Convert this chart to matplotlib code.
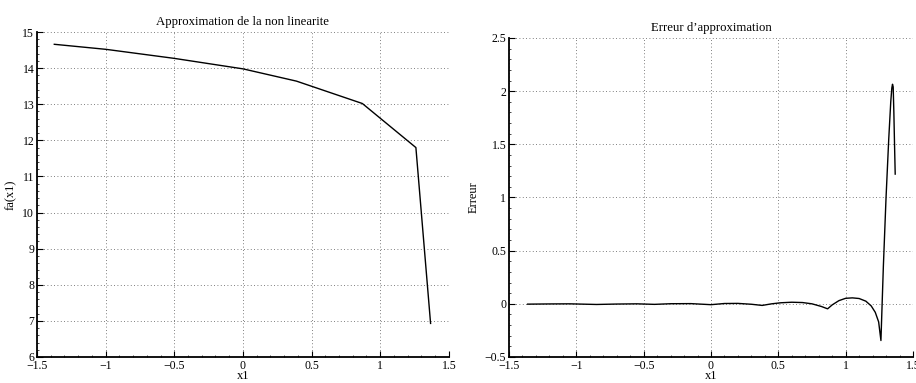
import numpy as np
import matplotlib
matplotlib.use("Agg")
import matplotlib.pyplot as plt
from matplotlib.ticker import MultipleLocator, AutoMinorLocator, FuncFormatter

plt.rcParams['font.family'] = ['Liberation Serif', 'DejaVu Serif']
plt.rcParams['font.size'] = 8.5

# piecewise linear approximation fa(x1)
x_fa = [-1.374, -0.997, -0.50, 0.0, 0.39, 0.87, 1.26, 1.367]
y_fa = [14.66, 14.52, 14.27, 13.98, 13.64, 13.02, 11.80, 6.93]

# approximation error
x_err = [-1.362, -1.2, -1.05, -0.85, -0.7, -0.55, -0.42, -0.3, -0.15, 0.0, 0.1, 0.2,
         0.3, 0.38, 0.45, 0.52, 0.6, 0.68, 0.75, 0.82, 0.866, 0.9, 0.95, 1.0, 1.05,
         1.1, 1.15, 1.19, 1.22, 1.245, 1.262, 1.28, 1.30, 1.32, 1.335, 1.343, 1.348,
         1.353, 1.358, 1.363, 1.368]
y_err = [-0.003, -0.001, 0.0, -0.006, -0.002, 0.0, -0.005, 0.001, 0.002, -0.008, 0.003, 0.004,
         -0.004, -0.015, 0.0, 0.01, 0.015, 0.012, 0.0, -0.025, -0.047, -0.01, 0.03, 0.052, 0.056,
         0.05, 0.025, -0.02, -0.08, -0.17, -0.345, 0.35, 1.0, 1.55, 1.9, 2.03, 2.065,
         2.04, 1.8, 1.5, 1.22]

fig = plt.figure(figsize=(9.16, 3.83), dpi=100)
ax1 = fig.add_axes([0.0404, 0.0679, 0.4496, 0.8485])
ax2 = fig.add_axes([0.5557, 0.0679, 0.4410, 0.8329])

fmt = FuncFormatter(lambda v, p: ('%g' % v).replace('-', '\u2212'))

def style(ax):
    for s in ['top', 'right']:
        ax.spines[s].set_visible(False)
    for s in ['left', 'bottom']:
        ax.spines[s].set_linewidth(1.3)
    ax.xaxis.set_major_locator(MultipleLocator(0.5))
    ax.xaxis.set_minor_locator(AutoMinorLocator(5))
    ax.yaxis.set_minor_locator(AutoMinorLocator(5))
    ax.xaxis.set_major_formatter(fmt)
    ax.yaxis.set_major_formatter(fmt)
    ax.tick_params(which='major', direction='in', length=4, width=0.8, pad=2)
    ax.tick_params(which='minor', direction='in', length=1.5, width=0.5)
    ax.grid(True, which='major', linestyle=(0, (1, 3)), color='#555555', linewidth=0.6)
    ax.set_xlim(-1.5, 1.5)
    ax.set_xlabel('x1', labelpad=-1, fontsize=9)

ax1.plot(x_fa, y_fa, color='black', linewidth=1.0)
style(ax1)
ax1.set_ylim(6, 15)
ax1.yaxis.set_major_locator(MultipleLocator(1))
ax1.set_ylabel('fa(x1)', labelpad=4, fontsize=9)
ax1.set_title('Approximation de la non linearite', fontsize=9.2, pad=5)

ax2.plot(x_err, y_err, color='black', linewidth=1.0)
style(ax2)
ax2.set_ylim(-0.5, 2.5)
ax2.yaxis.set_major_locator(MultipleLocator(0.5))
ax2.set_ylabel('Erreur', labelpad=4, fontsize=9)
ax2.set_title('Erreur d\u2019approximation', fontsize=9.2, pad=5)

fig.savefig('out.png', dpi=100)
